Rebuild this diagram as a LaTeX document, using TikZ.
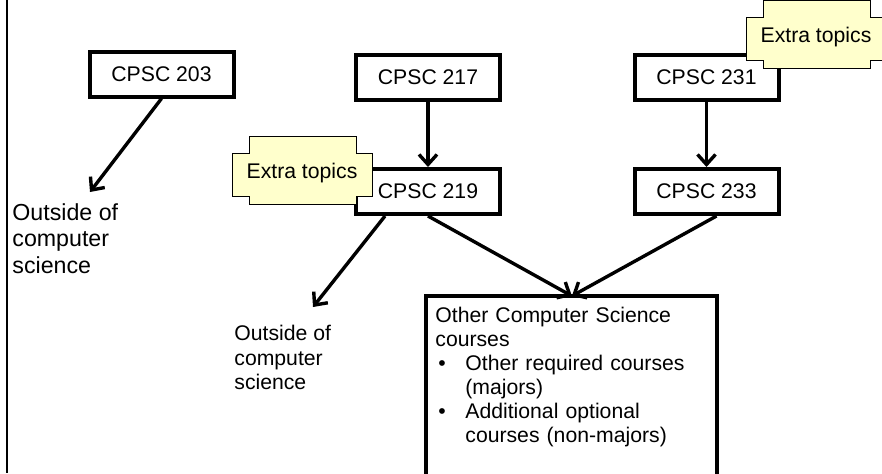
\documentclass[tikz,border=0pt]{standalone}
\usepackage{fontspec}
\setmainfont{Liberation Sans}
\usetikzlibrary{arrows.meta}
\tikzset{>={Straight Barb[length=5pt,width=9pt]}}
\tikzset{
  course/.style={draw,line width=2pt,minimum width=72pt,minimum height=22.5pt,inner sep=0pt},
  flow/.style={->,line width=1.7pt},
  tagfill/.style={fill={rgb,255:red,255;green,255;blue,204},draw=black,line width=0.5pt},
  outside/.style={align=left,inner sep=0pt,anchor=north west,font=\fontsize{10.6}{12.3}\selectfont}
}

\begin{document}
\begin{tikzpicture}[x=0.5pt,y=-0.5pt,font=\fontsize{10.6}{12}\selectfont]
    \useasboundingbox (0,0) rectangle (882,473);
    \draw[line width=1pt] (7,0) -- (7,473);
    % courses
    \node[course] (c203) at (161.5,74) {CPSC 203};
    \node[course] (c217) at (428,77.5) {CPSC 217};
    \node[course] (c219) at (428,191.5) {CPSC 219};
    \node[course] (c231) at (706.5,77) {CPSC 231};
    \node[course] (c233) at (706.5,191.5) {CPSC 233};
    \node[outside,font=\fontsize{11.6}{13.3}\selectfont] (out1) at (12,203) {Outside of\\computer\\science};
    \node[outside] (out2) at (234,325) {Outside of\\computer\\science};
    \node[anchor=north west,text width=136.5pt,inner xsep=4.5pt,inner ysep=5.5pt,align=left] (other) at (426,296) {Other Computer Science\\courses\\
      \hspace*{1.5pt}\makebox[13.5pt][l]{\textbullet}Other required courses\\
      \hspace*{15pt}(majors)\\
      \hspace*{1.5pt}\makebox[13.5pt][l]{\textbullet}Additional optional\\
      \hspace*{15pt}courses (non-majors)};
    \coordinate (boxEnd) at (717,485);
    \draw[line width=2pt] (other.north west) rectangle (boxEnd);
    % arrows
    \coordinate (out1Tip) at (90,192);
    \coordinate (out2Tip) at (313,307);
    \draw[flow] (c203.south) -- (out1Tip);
    \draw[flow] (c217) -- (c219);
    \draw[flow] (c231) -- (c233);
    \draw[flow] ([xshift=-21.5pt]c219.south) -- (out2Tip);
    \draw[flow] (c219.south) -- (other.north);
    \draw[flow] ([xshift=5pt]c233.south) -- (other.north);
    % extra topics tags
    \foreach \cx/\cy/\nm in {302/173/xt219, 816/37/xt231} {
        \filldraw[tagfill] (\cx-53,\cy-37) -- (\cx+54,\cy-37) -- (\cx+54,\cy-20) -- (\cx+70,\cy-20)
          -- (\cx+70,\cy+23) -- (\cx+54,\cy+23) -- (\cx+54,\cy+31) -- (\cx-53,\cy+31)
          -- (\cx-53,\cy+23) -- (\cx-70,\cy+23) -- (\cx-70,\cy-20) -- (\cx-53,\cy-20) -- cycle;
        \node (\nm) at (\cx,\cy) {Extra topics};
      }
  \end{tikzpicture}
\end{document}
